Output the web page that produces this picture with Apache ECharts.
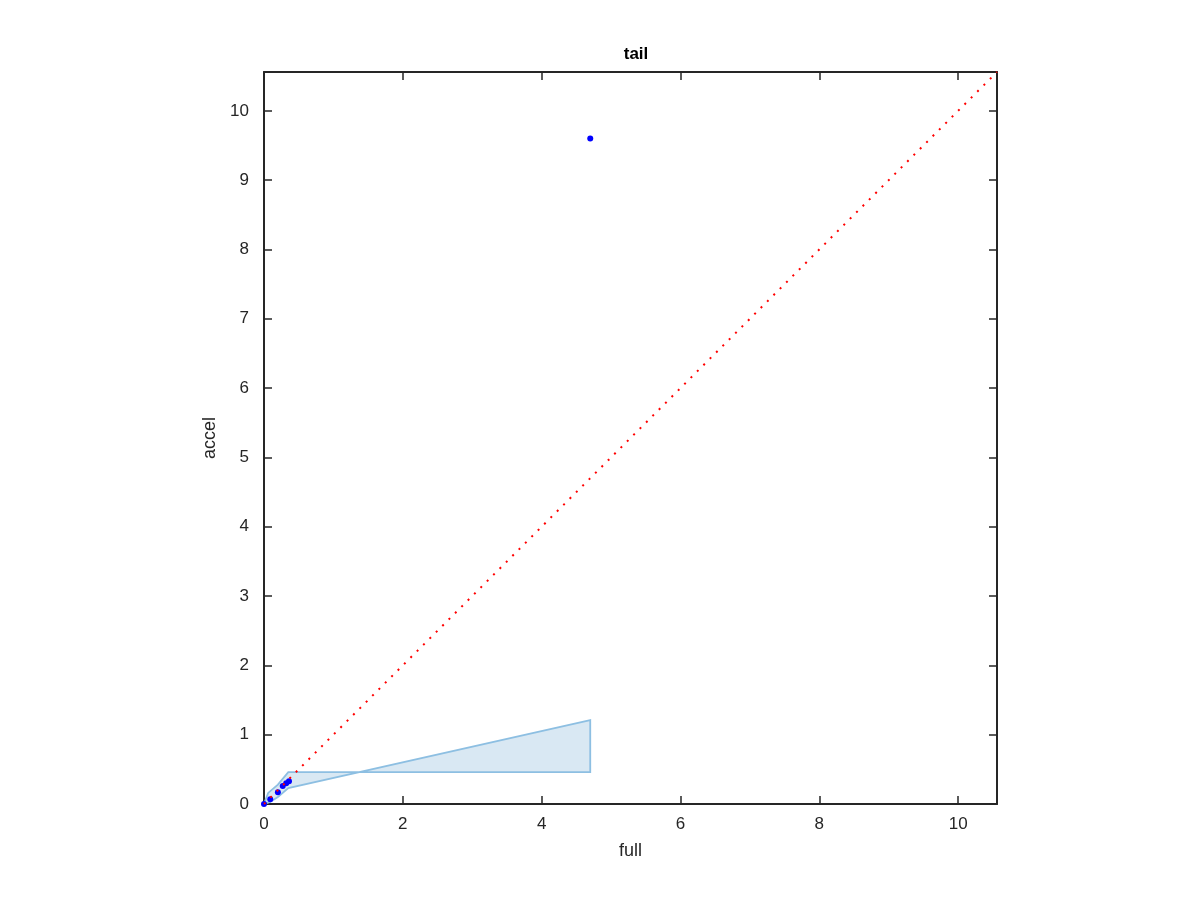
<!DOCTYPE html>
<html>
<head>
<meta charset="utf-8">
<script src="https://cdn.jsdelivr.net/npm/echarts@6/dist/echarts.min.js"></script>
<style>html,body{margin:0;padding:0;background:#fff;}#c{width:1200px;height:900px;}</style>
</head>
<body>
<div id="c"></div>
<script>
var axisMax = 10.56;
var pointsX = [0, 0.09, 0.2, 0.27, 0.32, 0.36, 4.70];
var pointsY = [0, 0.07, 0.17, 0.26, 0.30, 0.33, 9.60];
var upperX = [0, 0.06, 0.2, 0.35, 4.70];
var upperY = [0, 0.16, 0.28, 0.46, 0.46];
var lowerX = [0, 0.09, 0.2, 0.35, 4.70];
var lowerY = [0, 0.03, 0.10, 0.23, 1.21];
var diagX = [0, axisMax];
var diagY = [0, axisMax];

var chart = echarts.init(document.getElementById('c'));
var font = 'Liberation Sans, Arial, Helvetica, sans-serif';
var poly = [];
for (var i = 0; i < upperX.length; i++) poly.push([upperX[i], upperY[i]]);
for (var j = lowerX.length - 1; j >= 0; j--) poly.push([lowerX[j], lowerY[j]]);
var pts = pointsX.map(function (x, i) { return [x, pointsY[i]]; });
var diag = diagX.map(function (x, i) { return [x, diagY[i]]; });

function axisBase(show) {
  return {
    type: 'value', min: 0, max: axisMax,
    axisLine: { show: true, onZero: false, lineStyle: { color: '#262626', width: 2 } },
    axisTick: { show: true, inside: true, length: 8, lineStyle: { color: '#262626', width: 1.5 } },
    axisLabel: { show: show, color: '#262626', fontSize: 17, fontFamily: font, margin: 12, showMaxLabel: false },
    splitLine: { show: false }
  };
}
var xb = axisBase(true);
xb.interval = 2; xb.position = 'bottom';
xb.name = 'full'; xb.nameLocation = 'middle'; xb.nameGap = 38;
xb.nameTextStyle = { color: '#262626', fontSize: 18, fontFamily: font };
var xt = axisBase(false); xt.interval = 2; xt.position = 'top';
var yl = axisBase(true);
yl.interval = 1; yl.position = 'left';
yl.name = 'accel'; yl.nameLocation = 'middle'; yl.nameGap = 43;
yl.nameTextStyle = { color: '#262626', fontSize: 18, fontFamily: font };
yl.axisLabel.margin = 15;
var yr = axisBase(false); yr.interval = 1; yr.position = 'right';

chart.setOption({
  animation: false,
  backgroundColor: '#ffffff',
  title: { text: 'tail', left: 631, top: 41, textAlign: 'center',
    textStyle: { fontSize: 17, fontWeight: 'bold', color: '#000', fontFamily: font } },
  grid: { left: 264, right: 203, top: 72, bottom: 96 },
  xAxis: [xb, xt],
  yAxis: [yl, yr],
  series: [
    {
      type: 'custom', xAxisIndex: 0, yAxisIndex: 0,
      data: [0],
      renderItem: function (params, api) {
        var p = poly.map(function (d) { return api.coord(d); });
        return { type: 'polygon', shape: { points: p },
          style: { fill: 'rgba(217,232,243,1)', stroke: '#8dbfe2', lineWidth: 1.8 } };
      },
      z: 1
    },
    {
      type: 'line', data: diag, showSymbol: false, symbol: 'none',
      lineStyle: { color: '#ff0000', width: 2, type: [2, 7] }, z: 3
    },
    {
      type: 'scatter', data: pts, symbol: 'circle', symbolSize: 6,
      itemStyle: { color: '#0000ff', opacity: 1 }, z: 2
    }
  ]
});
</script>
</body>
</html>
